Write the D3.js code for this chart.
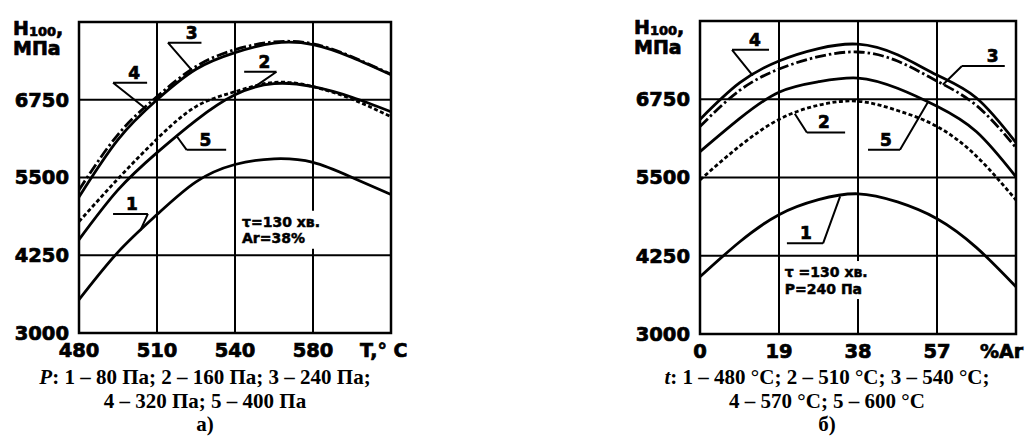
<!DOCTYPE html>
<html>
<head>
<meta charset="utf-8">
<script src="https://d3js.org/d3.v7.min.js"></script>
<style>
  body { margin: 0; background: #fff; }
  .lab { font-family: "DejaVu Sans", sans-serif; font-weight: bold; fill: #000; stroke: #000; stroke-width: 0.7px; }
  .cap { font-family: "Liberation Serif", "Times New Roman", serif; font-weight: bold; font-size: 21px; fill: #000; }
</style>
</head>
<body>
<script>

// y axis (both panels)
var hGrid = [3000, 4250, 5500, 6750, 8000];
var hTicks = [3000, 4250, 5500, 6750];

// panel a) : H100 vs temperature, one curve per pressure
var tempGrid = [480, 510, 540, 580, 620];
var tempTicks = [480, 510, 540, 580];
var tempX = [480, 495, 510, 525, 540, 560, 580, 600, 620];
var hP80  = [3536, 4300, 4904, 5430, 5709, 5800, 5742, 5500, 5226];
var hP160 = [4790, 5480, 6120, 6640, 6879, 7030, 6960, 6760, 6476];
var hP240 = [5300, 6190, 6800, 7285, 7555, 7680, 7650, 7440, 7160];
var hP320 = [5188, 6110, 6750, 7240, 7507, 7660, 7636, 7430, 7152];
var hP400 = [4500, 5300, 5900, 6420, 6830, 7010, 6960, 6790, 6557];

// panel б) : H100 vs %Ar, one curve per temperature
var arGrid = [0, 19, 38, 57, 76];
var arTicks = [0, 19, 38, 57];
var arX = [0, 9.5, 19, 28.5, 38, 47.5, 57, 66.5, 76];
var hT480 = [3914, 4470, 4906, 5146, 5240, 5110, 4842, 4380, 3754];
var hT510 = [5462, 6000, 6428, 6655, 6718, 6570, 6315, 5840, 5140];
var hT540 = [6315, 6890, 7233, 7430, 7505, 7360, 7040, 6650, 5977];
var hT570 = [6428, 7010, 7362, 7560, 7630, 7460, 7136, 6770, 6058];
var hT600 = [5913, 6440, 6863, 7030, 7088, 6925, 6637, 6230, 5510];

var width = 1028, height = 437;

var svg = d3.select("body").append("svg")
    .attr("width", width)
    .attr("height", height);

var dashes = ["none", "4,2.5", "11,3,2.5,3", "none", "none"];

var panels = [
  {
    x0: 79, x1: 391, y0: 22, y1: 333,
    xGrid: tempGrid, xTicks: tempTicks, xs: tempX,
    series: [hP80, hP160, hP240, hP320, hP400],
    xTitle: "T,° C", xTitleDx: -31,
    // n, curve, tip x, underline from/to, underline level, joint end, label x
    leaders: [
      ["1", 0, 503.5, 493.1, 506.5, 4915, "b", 500.4],
      ["2", 1, 549.9, 544.7, 561.3, 7200, "b", 555.1],
      ["3", 2, 523.3, 514.2, 527.1, 7668, "a", 523.3],
      ["4", 3, 506.2, 493.1, 506.2, 7024, "a", 501.2],
      ["5", 4, 517.6, 521.4, 536.6, 5945, "a", 528.6]
    ],
    note: ["τ=130 хв.", "Ar=38%"], noteAt: [543.6, 4708],
    cap: [[["P", true], [": 1 – 80 Па; 2 – 160 Па; 3 – 240 Па;", false]],
          [["4 – 320 Па; 5 – 400 Па", false]],
          [["а)", false]]],
    capX: 205
  },
  {
    x0: 700, x1: 1016, y0: 21, y1: 334,
    xGrid: arGrid, xTicks: arTicks, xs: arX,
    series: [hT480, hT510, hT540, hT570, hT600],
    xTitle: "%Ar", xTitleDx: -36,
    leaders: [
      ["1", 0, 33.7, 20.9, 29.6, 4448, "b", 25.5],
      ["2", 1, 22.8, 25.7, 34.9, 6219, "a", 29.8],
      ["3", 2, 58.4, 63.0, 73.3, 7281, "a", 70.4],
      ["4", 3, 12.7, 7.7, 16.6, 7539, "a", 13.2],
      ["5", 4, 54.8, 40.4, 48.1, 5945, "b", 44.7]
    ],
    note: ["τ =130 хв.", "P=240 Па"], noteAt: [20.4, 3910],
    cap: [[["t", true], [": 1 – 480 °C; 2 – 510 °C; 3 – 540 °C;", false]],
          [["4 – 570 °C; 5 – 600 °C", false]],
          [["б)", false]]],
    capX: 827
  }
];

panels.forEach(drawPanel);

function drawPanel(p) {

  var x = d3.scaleLinear()
      .domain(p.xGrid)
      .range(p.xGrid.map(function(d, i) { return p.x0 + i * (p.x1 - p.x0) / (p.xGrid.length - 1); }));

  var y = d3.scaleLinear()
      .domain([3000, 8000])
      .range([p.y1, p.y0]);

  var g = svg.append("g");

  // grid
  g.selectAll(".vg").data(p.xGrid).enter().append("line")
      .attr("x1", function(d) { return x(d); })
      .attr("x2", function(d) { return x(d); })
      .attr("y1", p.y0).attr("y2", p.y1)
      .attr("stroke", "#000").attr("stroke-width", 2);

  g.selectAll(".hg").data(hGrid).enter().append("line")
      .attr("y1", function(d) { return y(d); })
      .attr("y2", function(d) { return y(d); })
      .attr("x1", p.x0).attr("x2", p.x1)
      .attr("stroke", "#000").attr("stroke-width", 2);

  g.append("rect")
      .attr("x", p.x0).attr("y", p.y0)
      .attr("width", p.x1 - p.x0).attr("height", p.y1 - p.y0)
      .attr("fill", "none").attr("stroke", "#000").attr("stroke-width", 2.5);

  // tick labels
  g.selectAll(".yl").data(hTicks).enter().append("text")
      .attr("class", "lab")
      .attr("x", p.x0 - 10)
      .attr("y", function(d) { return y(d); })
      .attr("dy", "0.35em")
      .attr("text-anchor", "end")
      .attr("font-size", 19.5)
      .text(function(d) { return d; });

  g.selectAll(".xl").data(p.xTicks).enter().append("text")
      .attr("class", "lab")
      .attr("x", function(d) { return x(d); })
      .attr("y", p.y1 + 24)
      .attr("text-anchor", "middle")
      .attr("font-size", 19.5)
      .text(function(d) { return d; });

  g.append("text")
      .attr("class", "lab")
      .attr("x", p.x1 + p.xTitleDx)
      .attr("y", p.y1 + 24)
      .attr("font-size", 19)
      .text(p.xTitle);

  var yt = g.append("text")
      .attr("class", "lab")
      .attr("x", p.x0 - 66)
      .attr("y", p.y0 + 13)
      .attr("font-size", 19);
  yt.append("tspan").text("H");
  yt.append("tspan").attr("font-size", 13).attr("dy", 1).text("100");
  yt.append("tspan").attr("dy", -1).text(",");

  g.append("text")
      .attr("class", "lab")
      .attr("x", p.x0 - 66)
      .attr("y", p.y0 + 33)
      .attr("font-size", 19)
      .text("МПа");

  // note with white backing
  var nx = x(p.noteAt[0]), ny = y(p.noteAt[1]);
  g.append("rect")
      .attr("x", nx - 3).attr("y", ny - 16)
      .attr("width", 88).attr("height", 38)
      .attr("fill", "#fff");

  g.selectAll(".note").data(p.note).enter().append("text")
      .attr("class", "lab")
      .attr("x", nx)
      .attr("y", function(d, i) { return ny + i * 16.5; })
      .attr("font-size", 14)
      .style("stroke-width", "0.5px")
      .text(function(d) { return d; });

  // curves
  var line = d3.line()
      .x(function(d, i) { return x(p.xs[i]); })
      .y(function(d) { return y(d); })
      .curve(d3.curveNatural);

  g.selectAll(".curve").data(p.series).enter().append("path")
      .attr("d", line)
      .attr("fill", "none")
      .attr("stroke", "#000")
      .attr("stroke-width", 2.8)
      .attr("stroke-dasharray", function(d, i) { return dashes[i]; });

  // leaders
  p.leaders.forEach(function(l) {
    var at = d3.scaleLinear().domain(p.xs).range(p.series[l[1]]);
    var jx = l[6] == "a" ? l[3] : l[4];
    g.append("path")
        .attr("d", "M" + x(l[3]) + "," + y(l[5]) + "H" + x(l[4]) +
                   "M" + x(jx) + "," + y(l[5]) + "L" + x(l[2]) + "," + y(at(l[2])))
        .attr("fill", "none")
        .attr("stroke", "#000")
        .attr("stroke-width", 2);
    g.append("text")
        .attr("class", "lab")
        .attr("x", x(l[7]))
        .attr("y", y(l[5]) - 4)
        .attr("text-anchor", "middle")
        .attr("font-size", 17)
        .text(l[0]);
  });

  // caption
  p.cap.forEach(function(row, i) {
    var t = svg.append("text")
        .attr("class", "cap")
        .attr("x", p.capX)
        .attr("y", 384 + i * 23.5)
        .attr("text-anchor", "middle");
    row.forEach(function(s) {
      t.append("tspan").attr("font-style", s[1] ? "italic" : "normal").text(s[0]);
    });
  });
}

</script>
</body>
</html>
